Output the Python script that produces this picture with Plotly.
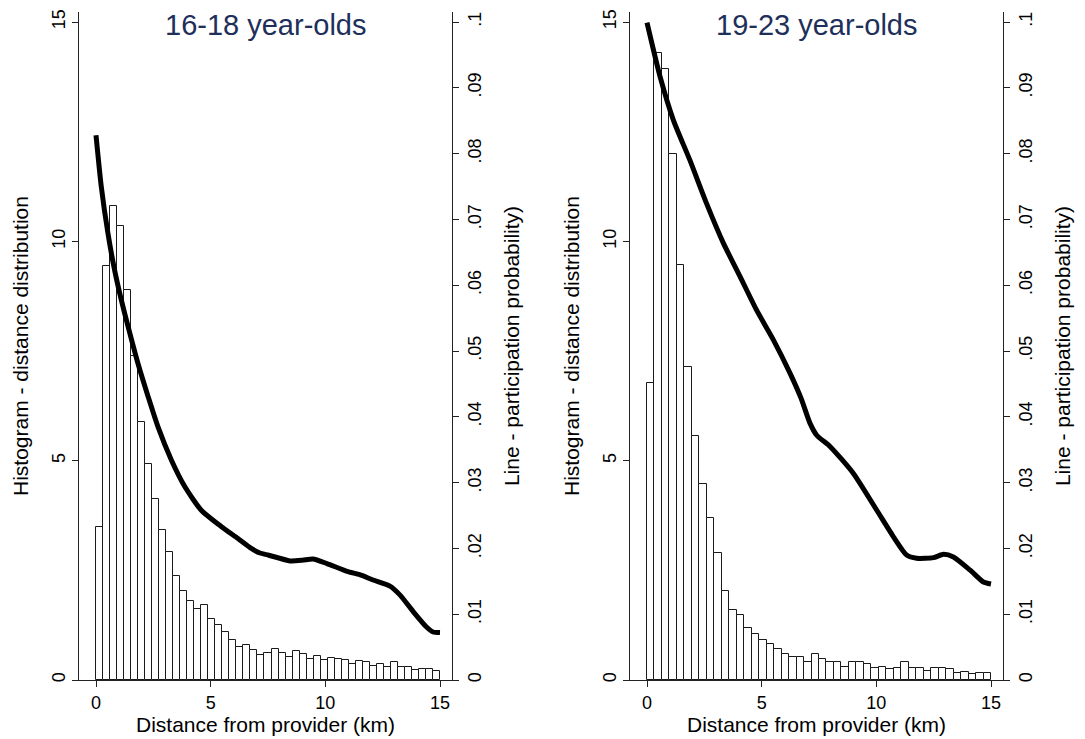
import plotly.graph_objects as go

# ---------------- data ----------------
panel_titles = ["16-18 year-olds", "19-23 year-olds"]
x_min_km = 0.0
x_max_km = 15.0

# Histogram heights (percent), equal-width bins spanning 0-15 km
hist_16_18 = [3.48, 9.44, 10.81, 10.34, 8.88, 7.38, 5.89, 4.93, 4.12, 3.43,
              2.92, 2.36, 2.02, 1.81, 1.61, 1.70, 1.38, 1.26, 1.09, 0.91,
              0.75, 0.80, 0.68, 0.57, 0.62, 0.70, 0.61, 0.53, 0.65, 0.59,
              0.48, 0.55, 0.45, 0.50, 0.47, 0.45, 0.36, 0.44, 0.40, 0.33,
              0.36, 0.30, 0.40, 0.30, 0.30, 0.22, 0.25, 0.26, 0.20]
hist_19_23 = [6.76, 14.30, 13.93, 12.00, 9.47, 7.14, 5.56, 4.46, 3.69, 2.89,
              2.03, 1.60, 1.48, 1.18, 1.04, 0.91, 0.83, 0.70, 0.60, 0.52,
              0.52, 0.40, 0.59, 0.49, 0.42, 0.40, 0.29, 0.40, 0.40, 0.36,
              0.27, 0.29, 0.24, 0.28, 0.40, 0.27, 0.27, 0.21, 0.27, 0.28,
              0.24, 0.17, 0.19, 0.13, 0.17, 0.17]

# Participation probability curves
line_x_16_18 = [0, 0.23, 0.52, 0.81, 1.10, 1.40, 1.83, 2.27, 2.70, 3.29, 3.87,
                4.59, 5.47, 6.19, 6.77, 7.15, 7.5, 8.46, 9.0, 9.46, 10.07,
                10.95, 11.5, 12.08, 12.8, 13.26, 13.83, 14.4, 14.7, 15.0]
line_y_16_18 = [0.0828, 0.0750, 0.0679, 0.0623, 0.0578, 0.0537, 0.0481, 0.0431,
                0.0385, 0.0334, 0.0294, 0.0258, 0.0233, 0.0215, 0.0200, 0.0193,
                0.0190, 0.0181, 0.0182, 0.0184, 0.0177, 0.0165, 0.0160, 0.0152,
                0.0143, 0.0129, 0.0104, 0.0081, 0.0073, 0.0072]
line_x_19_23 = [0, 0.57, 1.15, 1.87, 2.60, 3.33, 4.06, 4.78, 5.51, 6.24, 6.72,
                7.11, 7.40, 7.98, 9.0, 10.02, 10.74, 11.32, 11.76, 12.49, 12.93,
                13.36, 14.09, 14.67, 15.0]
line_y_19_23 = [0.0999, 0.0917, 0.0851, 0.0790, 0.0724, 0.0664, 0.0613, 0.0562,
                0.0517, 0.0466, 0.0428, 0.0390, 0.0372, 0.0355, 0.0314, 0.0258,
                0.0218, 0.0190, 0.0185, 0.0186, 0.0191, 0.0187, 0.0167, 0.0149,
                0.0146]

left_ticks = [0, 5, 10, 15]
right_tickvals = [0, 0.01, 0.02, 0.03, 0.04, 0.05, 0.06, 0.07, 0.08, 0.09, 0.1]
right_ticktext = ["0", ".01", ".02", ".03", ".04", ".05", ".06", ".07", ".08", ".09", ".1"]
x_ticks = [0, 5, 10, 15]

left_title = "Histogram - distance distribution"
right_title = "Line - participation probability)"
x_title = "Distance from provider (km)"

# ---------------- figure ----------------
OFF = 8                      # page body margin in the browser
W, H = 1085 - OFF, 739 - OFF
FONT = "Liberation Sans, Arial, sans-serif"
fig = go.Figure()

def bins(values):
    w = (x_max_km - x_min_km) / len(values)
    centers = [x_min_km + w * (i + 0.5) for i in range(len(values))]
    return centers, w

panels = [
    (hist_16_18, line_x_16_18, line_y_16_18, "x", "y", "y2"),
    (hist_19_23, line_x_19_23, line_y_19_23, "x2", "y3", "y4"),
]
for hist, lx, ly, xa, ya, ya2 in panels:
    c, w = bins(hist)
    fig.add_trace(go.Bar(x=c, y=hist, width=w, xaxis=xa, yaxis=ya,
                         marker=dict(color="white", line=dict(color="#1a1a1a", width=1)),
                         showlegend=False, hoverinfo="skip"))
    fig.add_trace(go.Scatter(x=lx, y=ly, xaxis=xa, yaxis=ya2, mode="lines",
                             line=dict(color="black", width=5, shape="spline", smoothing=0.6),
                             showlegend=False, hoverinfo="skip"))

# pixel geometry (screen pixels, converted to figure pixels by OFF)
plot_top, plot_bottom = 12, 680
ydom = [1 - (plot_bottom - OFF) / H, 1 - (plot_top - OFF) / H]
y_top_val = 15 + (22 - plot_top) / ((680 - 22) / 15)
x_lo = (79 - 96) / (344 / 15)
x_hi = (452 - 96) / (344 / 15)

panel_px = [(79, 452), (630, 1003)]
tfont = dict(family=FONT, size=18, color="black")
ttl_font = dict(family=FONT, size=21, color="black")

common_y = dict(showgrid=False, zeroline=False, showline=True, linecolor="#222",
                linewidth=1, ticks="outside", ticklen=6, tickcolor="#222",
                tickangle=-90, tickfont=tfont, domain=ydom, automargin=False)

layout = dict(width=W, height=H, autosize=False,
              margin=dict(l=0, r=0, t=0, b=0),
              paper_bgcolor="white", plot_bgcolor="white",
              bargap=0, barmode="overlay", font=dict(family=FONT, color="black"))

for i, (pl, pr) in enumerate(panel_px):
    xdom = [(pl - OFF) / W, (pr - OFF) / W]
    xname = "xaxis" if i == 0 else "xaxis2"
    yl = "yaxis" if i == 0 else "yaxis3"
    yr = "yaxis2" if i == 0 else "yaxis4"
    yl_ref = "y" if i == 0 else "y3"
    xref = "x" if i == 0 else "x2"
    layout[xname] = dict(domain=xdom, range=[x_lo, x_hi], anchor=yl_ref,
                         tickvals=x_ticks, showgrid=False, zeroline=False,
                         showline=True, linecolor="#222", linewidth=1,
                         ticks="outside", ticklen=6, tickcolor="#222",
                         tickfont=tfont, automargin=False,
                         title=dict(text=x_title, font=ttl_font, standoff=2))
    layout[yl] = dict(common_y, anchor=xref, range=[0, y_top_val], tickvals=left_ticks,
                      title=dict(text=left_title, font=ttl_font, standoff=14))
    layout[yr] = dict(common_y, anchor=xref, overlaying=yl_ref, side="right",
                      range=[0, 0.1 * y_top_val / 15],
                      tickvals=right_tickvals, ticktext=right_ticktext,
                      title=dict(text=right_title, font=ttl_font, standoff=20))

fig.update_layout(**layout)

for i, (pl, pr) in enumerate(panel_px):
    fig.add_annotation(text=panel_titles[i], x=((pl + pr) / 2 - OFF) / W,
                       y=1 - (25 - OFF) / H,
                       xref="paper", yref="paper", showarrow=False,
                       xanchor="center", yanchor="middle",
                       font=dict(family=FONT, size=29, color="#1e2f5a"))

fig.write_html("out.html")
